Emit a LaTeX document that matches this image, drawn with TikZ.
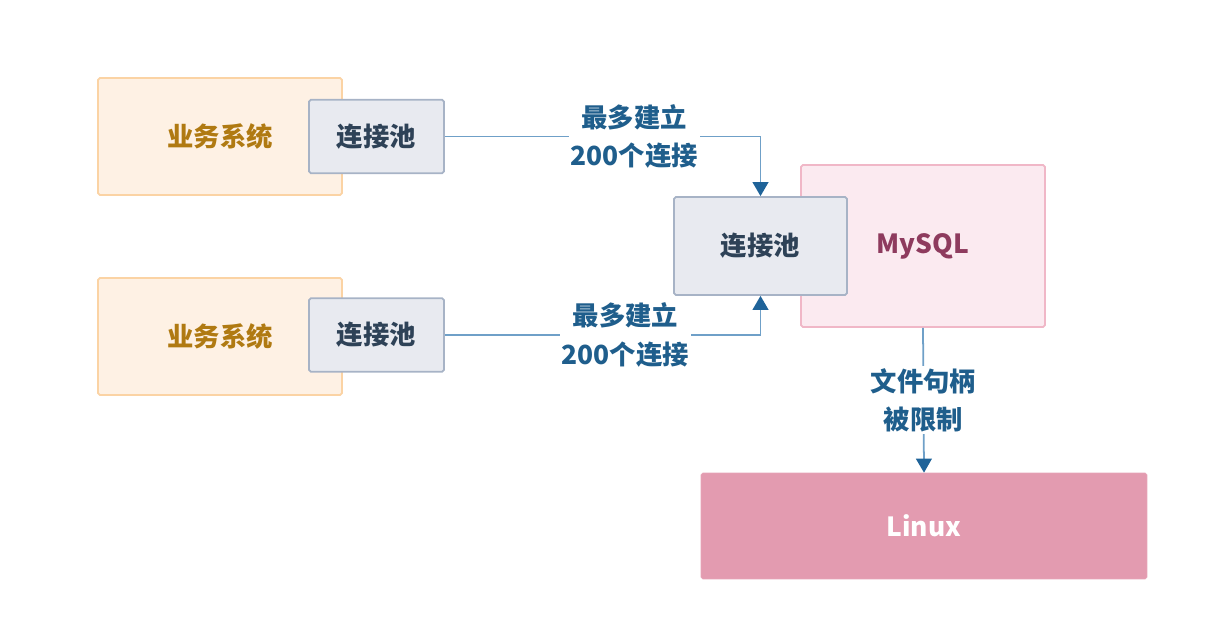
\documentclass[tikz,border=0pt]{standalone}
\usepackage{fontspec}
\setmainfont{Noto Sans CJK SC}
\usepackage{tikz}
\usetikzlibrary{arrows.meta,positioning}

\definecolor{bizfill}{HTML}{FEF1E4}
\definecolor{bizline}{HTML}{FBD3A4}
\definecolor{biztext}{HTML}{B07A12}
\definecolor{poolfill}{HTML}{E8EAF0}
\definecolor{poolline}{HTML}{A7B3C6}
\definecolor{pooltext}{HTML}{2E4257}
\definecolor{dbfill}{HTML}{FBEAF0}
\definecolor{dbline}{HTML}{F0B7C7}
\definecolor{dbtext}{HTML}{8E3B5E}
\definecolor{osfill}{HTML}{E39BB0}
\definecolor{flowline}{HTML}{6FA0C8}
\definecolor{flowhead}{HTML}{1F6399}
\definecolor{flowtext}{HTML}{1F5E8C}

\begin{document}
\begin{tikzpicture}[x=0.02cm, y=-0.02cm, font=\fontsize{15}{22}\selectfont\bfseries,
  biz/.style={rectangle, draw=bizline, fill=bizfill, text=biztext, line width=1pt,
    rounded corners=1pt, minimum width=4.88cm, minimum height=2.34cm},
  pool/.style={rectangle, draw=poolline, fill=poolfill, text=pooltext, line width=1pt,
    rounded corners=1pt, minimum width=2.7cm, minimum height=1.47cm},
  flow/.style={draw=flowline, line width=1pt,
    -{Triangle[width=9pt,length=8pt,color=flowhead]}},
  tag/.style={fill=white, text=flowtext, align=center, inner sep=1pt}]

  \useasboundingbox (0,0) rectangle (1226,634);

  % business systems with their own pools
  \node[biz] (biz1) at (220,136.5) {业务系统};
  \node[pool] (pool1) at (376.5,136.5) {连接池};
  \node[biz] (biz2) at (220,336.5) {业务系统};
  \node[pool] (pool2) at (376.5,335) {连接池};

  % database side
  \node[rectangle, draw=dbline, fill=dbfill, text=dbtext, line width=1pt, rounded corners=1pt,
    minimum width=4.88cm, minimum height=3.24cm] (mysql) at (923,246) {MySQL};
  \node[pool, minimum width=3.46cm, minimum height=1.96cm] (dbpool) at (760.5,246) {连接池};
  \node[rectangle, draw=osfill!90!white, fill=osfill, text=white, rounded corners=1pt,
    minimum width=8.92cm, minimum height=2.12cm] (linux) at (924,526) {Linux};

  \draw[flow] (pool1.east) -| node[tag, pos=0.3] {最多建立\\200个连接} (dbpool.north);
  \draw[flow] (pool2.east) -| node[tag, pos=0.286] {最多建立\\200个连接} (dbpool.south);
  \draw[flow] (mysql.south) -- node[tag] {文件句柄\\被限制} (linux.north);

\end{tikzpicture}
\end{document}
